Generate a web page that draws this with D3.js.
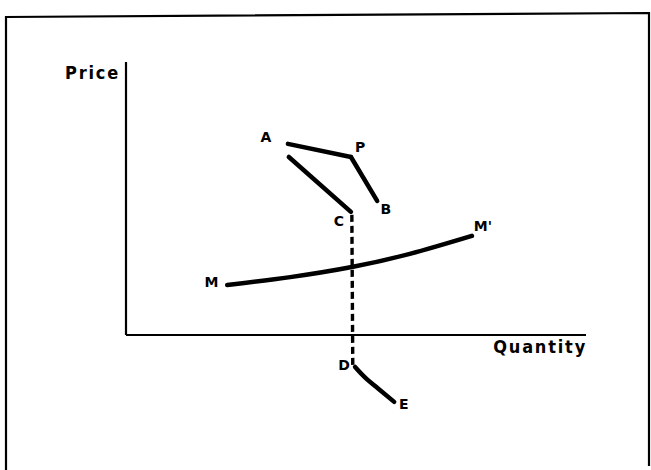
<!DOCTYPE html>
<html>
<head>
<meta charset="utf-8">
<script src="https://cdn.jsdelivr.net/npm/d3@7"></script>
<style>
  body { margin: 0; background: #fff; }
  svg { display: block; }
  .lbl { font-family: "DejaVu Sans", sans-serif; font-weight: bold; font-size: 14px; fill: #000; }
  .axlbl { font-family: "DejaVu Sans Condensed", "DejaVu Sans", sans-serif; font-weight: bold; font-size: 18px; letter-spacing: 1.8px; fill: #000; }
</style>
</head>
<body>
<script>
// values (quantity 0..100, price 0..100, origin at axes)
const upperAP = [[35.2, 70.0], [48.9, 65.2]];
const upperPB = [[48.9, 65.2], [54.6, 49.1]];
const lowerAC = [[35.4, 65.2], [48.9, 45.1]];
const dashedCD = [[49.1, 44.0], [49.3, -11.4]];
const lowerDE = [[49.8, -11.7], [52.0, -15.6], [54.8, -19.6], [58.3, -24.5]];
const curveMM = [[22.0, 18.3], [35.7, 21.2], [49.1, 24.9], [61.7, 29.7], [75.2, 36.3]];
const pointLabels = [
  {t: "A", q: 30.4, p: 72.5}, {t: "P", q: 50.9, p: 68.9}, {t: "B", q: 56.5, p: 46.2},
  {t: "C", q: 46.3, p: 41.7}, {t: "M'", q: 77.6, p: 39.9}, {t: "M", q: 18.6, p: 19.4},
  {t: "D", q: 47.4, p: -11.0}, {t: "E", q: 60.4, p: -25.3}
];
const xTitle = "Quantity";
const yTitle = "Price";

const width = 651, height = 470;
const svg = d3.select("body").append("svg")
  .attr("width", width).attr("height", height);

// scanned border, slightly tilted
svg.append("path")
  .attr("d", "M6,470 L6,17 L649,13 L649,466")
  .attr("fill", "none").attr("stroke", "#000").attr("stroke-width", 2.2);

let x = d3.scaleLinear().domain([0, 100]).range([126, 586]);
let y = d3.scaleLinear().domain([0, 100]).range([335, 62]);

// axes
svg.append("line")
  .attr("x1", x(0)).attr("y1", y(0)).attr("x2", x(0)).attr("y2", y(100))
  .attr("stroke", "#000").attr("stroke-width", 2.2);
svg.append("line")
  .attr("x1", x(0)).attr("y1", y(0)).attr("x2", x(100)).attr("y2", y(0))
  .attr("stroke", "#000").attr("stroke-width", 2.2);

svg.append("text").attr("class", "axlbl")
  .attr("x", x(0) - 6).attr("y", y(100) + 17)
  .attr("text-anchor", "end").text(yTitle);
svg.append("text").attr("class", "axlbl")
  .attr("x", x(100) + 1).attr("y", y(0) + 18)
  .attr("text-anchor", "end").text(xTitle);

let line = d3.line().x(d => x(d[0])).y(d => y(d[1]));
let smooth = d3.line().x(d => x(d[0])).y(d => y(d[1])).curve(d3.curveNatural);

[upperAP, upperPB, lowerAC].forEach(seg => {
  svg.append("path").attr("d", line(seg))
    .attr("fill", "none").attr("stroke", "#000")
    .attr("stroke-width", 4.5).attr("stroke-linecap", "round");
});
[lowerDE, curveMM].forEach(seg => {
  svg.append("path").attr("d", smooth(seg))
    .attr("fill", "none").attr("stroke", "#000")
    .attr("stroke-width", 4.5).attr("stroke-linecap", "round");
});

svg.append("path").attr("d", line(dashedCD))
  .attr("fill", "none").attr("stroke", "#000")
  .attr("stroke-width", 3.4).attr("stroke-dasharray", "7,4");

svg.selectAll("text.lbl")
  .data(pointLabels)
  .join("text")
  .attr("class", "lbl")
  .attr("x", d => x(d.q)).attr("y", d => y(d.p))
  .attr("text-anchor", "middle").attr("dominant-baseline", "central")
  .text(d => d.t);
</script>
</body>
</html>
